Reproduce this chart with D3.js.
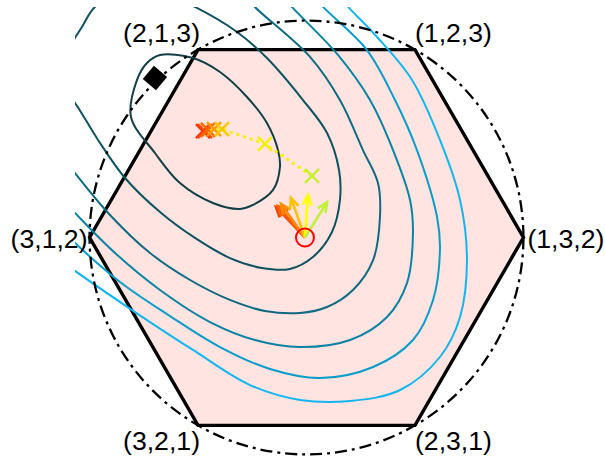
<!DOCTYPE html>
<html><head><meta charset="utf-8">
<script src="https://cdn.jsdelivr.net/npm/d3@7"></script>
<style>html,body{margin:0;padding:0;background:#fff;} svg{display:block;}</style>
</head><body><svg id="chart" width="605" height="460"></svg>
<script>
// ---------- data ----------
const permutations = [[1,3,2],[1,2,3],[2,1,3],[3,1,2],[3,2,1],[2,3,1]];
const vertexLabels = ["(1,3,2)","(1,2,3)","(2,1,3)","(3,1,2)","(3,2,1)","(2,3,1)"];

// contour lines (projected 2-D coordinates), innermost first
const contour1 = [[-1.144,0.786],[-1.105,1.027],[-1.040,1.138],[-0.955,1.190],[-0.740,1.170],[-0.564,1.079],[-0.388,0.916],[-0.258,0.746],[-0.186,0.570],[-0.173,0.460],[-0.218,0.310],[-0.349,0.212],[-0.434,0.186],[-0.610,0.225],[-0.825,0.355],[-0.988,0.551]];
const contour2 = [[-0.727,1.503],[-0.453,1.340],[-0.258,1.170],[-0.023,0.896],[0.134,0.681],[0.212,0.440],[0.218,0.244],[0.166,0.036],[0.042,-0.127],[-0.108,-0.205],[-0.290,-0.199],[-0.499,-0.134],[-0.727,-0.003],[-0.955,0.166],[-1.183,0.388],[-1.359,0.636],[-1.509,0.877],[-1.581,0.962],[-1.607,1.079],[-1.555,1.222],[-1.464,1.372],[-1.379,1.503],[-1.216,1.587],[-0.955,1.600]];
const contour3 = [[-0.401,1.581],[-0.336,1.503],[0.023,1.177],[0.218,0.896],[0.368,0.570],[0.466,0.355],[0.479,0.134],[0.434,-0.147],[0.303,-0.342],[0.134,-0.453],[-0.042,-0.492],[-0.271,-0.479],[-0.499,-0.407],[-0.759,-0.277],[-1.020,-0.101],[-1.281,0.147],[-1.509,0.420],[-1.607,0.551]];
const contour4 = [[-0.160,1.581],[-0.095,1.503],[0.205,1.190],[0.414,0.896],[0.564,0.570],[0.675,0.244],[0.694,0.029],[0.655,-0.297],[0.525,-0.518],[0.284,-0.668],[-0.042,-0.714],[-0.336,-0.668],[-0.629,-0.551],[-0.955,-0.342],[-1.248,-0.101],[-1.509,0.160],[-1.607,0.264]];
const contour5 = [[0.042,1.581],[0.108,1.503],[0.394,1.222],[0.577,0.896],[0.720,0.570],[0.851,0.134],[0.870,-0.081],[0.825,-0.407],[0.694,-0.668],[0.434,-0.844],[0.088,-0.916],[-0.238,-0.857],[-0.564,-0.714],[-0.890,-0.512],[-1.216,-0.290],[-1.509,-0.036],[-1.607,0.062]];
const contour6 = [[0.205,1.581],[0.271,1.503],[0.460,1.307],[0.688,1.027],[0.870,0.636],[1.001,0.244],[1.046,-0.147],[1.001,-0.518],[0.870,-0.779],[0.610,-0.994],[0.284,-1.066],[-0.042,-1.059],[-0.368,-0.962],[-0.740,-0.733],[-1.118,-0.486],[-1.509,-0.218],[-1.607,-0.147]];
const contourClosed = [true, true, false, false, false, false];
const contourColors = ["#123f45","#0f5260","#0d6a80","#0a83a3","#079dca","#12b6ef"];
const contourWindowX = [-1.509, 2.0];
const contourWindowY = [-2.0, 1.503];

// optimisation iterates
const iterates = [[0.036,0.401],[-0.271,0.610],[-0.551,0.707],[-0.603,0.707],[-0.642,0.701],[-0.662,0.694],[-0.675,0.694]];
const iterateColors = ["#c8f032","#f5f000","#ffc800","#ff9a00","#ff6a00","#ff4a00","#ff3200"];

// gradient arrows from the start point
const arrowOrigin = [-0.010, 0.000];
const arrowTips = [[0.134,0.231],[0.010,0.277],[-0.101,0.258],[-0.166,0.218],[-0.186,0.205],[-0.199,0.199]];
const arrowColors = ["#c0f03c","#ffff00","#ffc000","#ff8c00","#ff6000","#ff4000"];

// target point
const targetPoint = [-0.988, 1.040];

// ---------- drawing ----------
const svg = d3.select("#chart");
const k = 153.4, cx = 306.5, cy = 237.5;
const x = d3.scaleLinear().domain([-2, 2]).range([cx - 2*k, cx + 2*k]);
const y = d3.scaleLinear().domain([-1.5, 1.5]).range([cy + 1.5*k, cy - 1.5*k]);
const proj = p => [(p[1]-p[0])/Math.SQRT2, (2*p[2]-p[0]-p[1])/Math.sqrt(6)];
const verts = permutations.map(proj);

// hexagon
svg.append("polygon")
  .attr("points", verts.map(v => [x(v[0]), y(v[1])].join(",")).join(" "))
  .attr("fill", "#ffe4e1").attr("stroke", "#000").attr("stroke-width", 3.4)
  .attr("stroke-linejoin", "miter");

// clip for contours
svg.append("clipPath").attr("id","cclip").append("rect")
  .attr("x", x(contourWindowX[0])).attr("y", y(contourWindowY[1]))
  .attr("width", x(contourWindowX[1]) - x(contourWindowX[0]))
  .attr("height", y(contourWindowY[0]) - y(contourWindowY[1]));

const contours = [contour1, contour2, contour3, contour4, contour5, contour6];
const gC = svg.append("g").attr("clip-path","url(#cclip)");
contours.forEach((c, i) => {
  const line = d3.line().x(d => x(d[0])).y(d => y(d[1]))
    .curve(contourClosed[i] ? d3.curveCatmullRomClosed.alpha(0.5) : d3.curveCatmullRom.alpha(0.5));
  gC.append("path").attr("d", line(c)).attr("fill","none")
    .attr("stroke", contourColors[i]).attr("stroke-width", 2);
});

// circumscribed circle
const R = Math.hypot(verts[0][0], verts[0][1]);
svg.append("circle").attr("cx", x(0)).attr("cy", y(0)).attr("r", x(R) - x(0))
  .attr("fill","none").attr("stroke","#000").attr("stroke-width", 2.3)
  .attr("stroke-dasharray","12,5,3,5");

// dotted path of iterates
svg.append("path")
  .attr("d", d3.line().x(d => x(d[0])).y(d => y(d[1]))(iterates))
  .attr("fill","none").attr("stroke","#f5f000").attr("stroke-width",3)
  .attr("stroke-dasharray","3,4");

// X markers
const xs = 7;
iterates.slice().reverse().forEach((p, j) => {
  const i = iterates.length - 1 - j;
  const px = x(p[0]), py = y(p[1]);
  const g = svg.append("g").attr("stroke", iterateColors[i]).attr("stroke-width", 2.5);
  g.append("line").attr("x1", px-xs).attr("y1", py-xs).attr("x2", px+xs).attr("y2", py+xs);
  g.append("line").attr("x1", px-xs).attr("y1", py+xs).attr("x2", px+xs).attr("y2", py-xs);
});

// arrows
const ox = x(arrowOrigin[0]), oy = y(arrowOrigin[1]);
arrowTips.slice().reverse().forEach((t, j) => {
  const i = arrowTips.length - 1 - j;
  const tx = x(t[0]), ty = y(t[1]);
  const a = Math.atan2(ty - oy, tx - ox);
  const L = 11, th = 0.42;
  const g = svg.append("g").attr("stroke", arrowColors[i]).attr("stroke-width", 2.6)
    .attr("fill","none").attr("stroke-linecap","butt").attr("stroke-linejoin","miter");
  g.append("line").attr("x1", ox).attr("y1", oy).attr("x2", tx).attr("y2", ty);
  g.append("path").attr("d",
    `M${tx - L*Math.cos(a-th)},${ty - L*Math.sin(a-th)}L${tx},${ty}L${tx - L*Math.cos(a+th)},${ty - L*Math.sin(a+th)}`);
});

// start circle
svg.append("circle").attr("cx", ox).attr("cy", oy).attr("r", 9)
  .attr("fill","none").attr("stroke","#ff0000").attr("stroke-width",2);

// target diamond
svg.append("path")
  .attr("d", d3.symbol().type(d3.symbolSquare).size(300)())
  .attr("transform", `translate(${x(targetPoint[0])},${y(targetPoint[1])}) rotate(40)`)
  .attr("fill","#000");

// vertex labels
verts.forEach((v, i) => {
  const vx = x(v[0]), vy = y(v[1]);
  let anchor = v[0] < 0 ? "end" : "start", tx, ty;
  if (Math.abs(v[1]) < 1e-6) {
    tx = v[0] < 0 ? vx - 2 : vx + 4;
    ty = vy + 10;
  } else {
    tx = v[0] < 0 ? vx + 2 : vx;
    ty = v[1] > 0 ? vy - 8 : vy + 25;
  }
  svg.append("text").attr("x", tx).attr("y", ty).attr("text-anchor", anchor)
    .attr("font-family","Liberation Sans, Arial, sans-serif").attr("font-size", 25)
    .attr("textLength", 77).attr("lengthAdjust","spacingAndGlyphs")
    .attr("fill","#000").text(vertexLabels[i]);
});
</script></body></html>
